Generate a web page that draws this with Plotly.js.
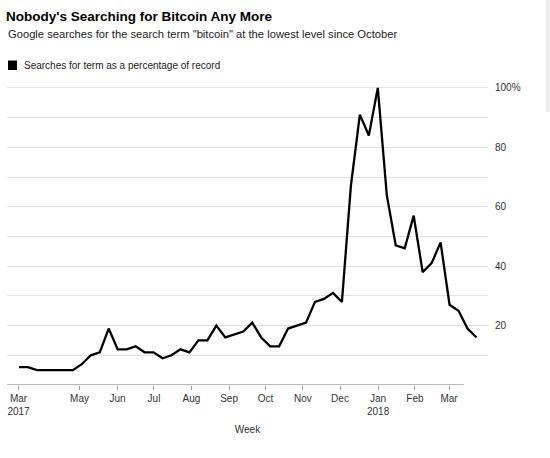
<!DOCTYPE html>
<html>
<head>
<meta charset="utf-8">
<script src="https://cdn.plot.ly/plotly-3.0.1.min.js"></script>
<style>
  html, body { margin: 0; padding: 0; background: #fff; }
  #chart { width: 550px; height: 458px; }
</style>
</head>
<body>
<div id="chart"></div>
<script>
// Weekly data points (week starting dates)
const weeks = [
  '2017-03-12','2017-03-19','2017-03-26','2017-04-02','2017-04-09','2017-04-16','2017-04-23','2017-04-30',
  '2017-05-07','2017-05-14','2017-05-21','2017-05-28','2017-06-04','2017-06-11','2017-06-18','2017-06-25',
  '2017-07-02','2017-07-09','2017-07-16','2017-07-23','2017-07-30','2017-08-06','2017-08-13','2017-08-20',
  '2017-08-27','2017-09-03','2017-09-10','2017-09-17','2017-09-24','2017-10-01','2017-10-08','2017-10-15',
  '2017-10-22','2017-10-29','2017-11-05','2017-11-12','2017-11-19','2017-11-26','2017-12-03','2017-12-10',
  '2017-12-17','2017-12-24','2017-12-31','2018-01-07','2018-01-14','2018-01-21','2018-01-28','2018-02-04',
  '2018-02-11','2018-02-18','2018-02-25','2018-03-04'
];
// Searches for term as a percentage of record
const searches = [
  6, 6, 5, 5, 5, 5, 5, 7,
  10, 11, 19, 12, 12, 13, 11, 11,
  9, 10, 12, 11, 15, 15, 20, 16,
  17, 18, 21, 16, 13, 13, 19, 20,
  21, 28, 29, 31, 28, 67, 91, 84,
  100, 64, 47, 46, 57, 38, 41, 48,
  27, 25, 19, 16
];
// x-axis month labels and where they sit on the time axis
const monthTickPos = [
  '2017-03-11 15:00','2017-04-28 05:00','2017-05-27 21:00','2017-06-25 08:00',
  '2017-07-24 14:00','2017-08-22 22:00','2017-09-20 10:00','2017-10-19 14:00',
  '2017-11-17 12:00','2017-12-17 05:00','2018-01-15 00:00','2018-02-10 14:00'
];
const monthTickText = ['Mar<br>2017','May','Jun','Jul','Aug','Sep','Oct','Nov','Dec','Jan<br>2018','Feb','Mar'];
// y-axis gridlines and labels
const yTickVals = [10, 20, 30, 40, 50, 60, 70, 80, 90, 100];
const yTickText = ['', '20', '', '40', '', '60', '', '80', '', '100%'];

const titleText = "Nobody's Searching for Bitcoin Any More";
const subtitleText = 'Google searches for the search term "bitcoin" at the lowest level since October';
const legendText = 'Searches for term as a percentage of record';

const FONT = '"Liberation Sans", Arial, Helvetica, sans-serif';

const trace = {
  type: 'scatter',
  mode: 'lines',
  x: weeks,
  y: searches,
  name: legendText,
  line: { color: '#000000', width: 2.3 },
  showlegend: false,
  hoverinfo: 'x+y'
};

const L = 7, R = 62, T = 76, B = 73;
const W = 550, H = 458;
const pw = W - L - R, ph = H - T - B;
const px2paperX = p => (p - L) / pw;
const px2paperY = p => (H - B - p) / ph;

const layout = {
  width: W, height: H,
  margin: { l: L, r: R, t: T, b: B, pad: 0 },
  paper_bgcolor: '#ffffff',
  plot_bgcolor: '#ffffff',
  font: { family: FONT, size: 10, color: '#333333' },
  showlegend: false,
  title: {
    text: '<b>' + titleText + '</b>',
    font: { family: FONT, size: 13.5, color: '#000000' },
    xref: 'container', yref: 'container',
    x: 6 / W, xanchor: 'left',
    y: 1 - 16.5 / H, yanchor: 'middle'
  },
  xaxis: {
    type: 'date',
    range: ['2017-03-02 15:00', '2018-03-13 00:00'],
    showgrid: false,
    zeroline: false,
    showline: false,
    tickmode: 'array',
    tickvals: monthTickPos,
    ticktext: monthTickText,
    ticks: 'outside',
    ticklen: 4,
    tickwidth: 1,
    tickcolor: '#999999',
    tickfont: { family: FONT, size: 10, color: '#333333' },
    title: { text: 'Week', font: { family: FONT, size: 10, color: '#333333' }, standoff: 9 },
    fixedrange: true
  },
  yaxis: {
    range: [0, 104],
    side: 'right',
    showgrid: true,
    gridcolor: '#e2e2e2',
    gridwidth: 1,
    zeroline: false,
    showline: false,
    tickmode: 'array',
    tickvals: yTickVals,
    ticktext: yTickText,
    ticks: '',
    ticklabelstandoff: 6,
    tickfont: { family: FONT, size: 10, color: '#333333' },
    fixedrange: true
  },
  shapes: [
    // x axis baseline
    { type: 'line', xref: 'paper', yref: 'y', x0: 0, x1: px2paperX(464), y0: 0, y1: 0,
      line: { color: '#a0a0a0', width: 1.5 } },
    // legend square
    { type: 'rect', xref: 'paper', yref: 'paper',
      x0: px2paperX(8), x1: px2paperX(17), y0: px2paperY(70), y1: px2paperY(60.5),
      fillcolor: '#000000', line: { width: 0 } },
    // light scrollbar strip at top right
    { type: 'rect', xref: 'paper', yref: 'paper',
      x0: px2paperX(546), x1: px2paperX(551), y0: px2paperY(112), y1: px2paperY(-2),
      fillcolor: '#ebebeb', line: { width: 0 } }
  ],
  annotations: [
    { text: subtitleText, xref: 'paper', yref: 'paper', x: px2paperX(6), y: px2paperY(34),
      xanchor: 'left', yanchor: 'middle', showarrow: false,
      font: { family: FONT, size: 11.2, color: '#222222' } },
    { text: legendText, xref: 'paper', yref: 'paper', x: px2paperX(22), y: px2paperY(65),
      xanchor: 'left', yanchor: 'middle', showarrow: false,
      font: { family: FONT, size: 10, color: '#222222' } }
  ]
};

Plotly.newPlot('chart', [trace], layout, { displayModeBar: false, staticPlot: true });
</script>
</body>
</html>
